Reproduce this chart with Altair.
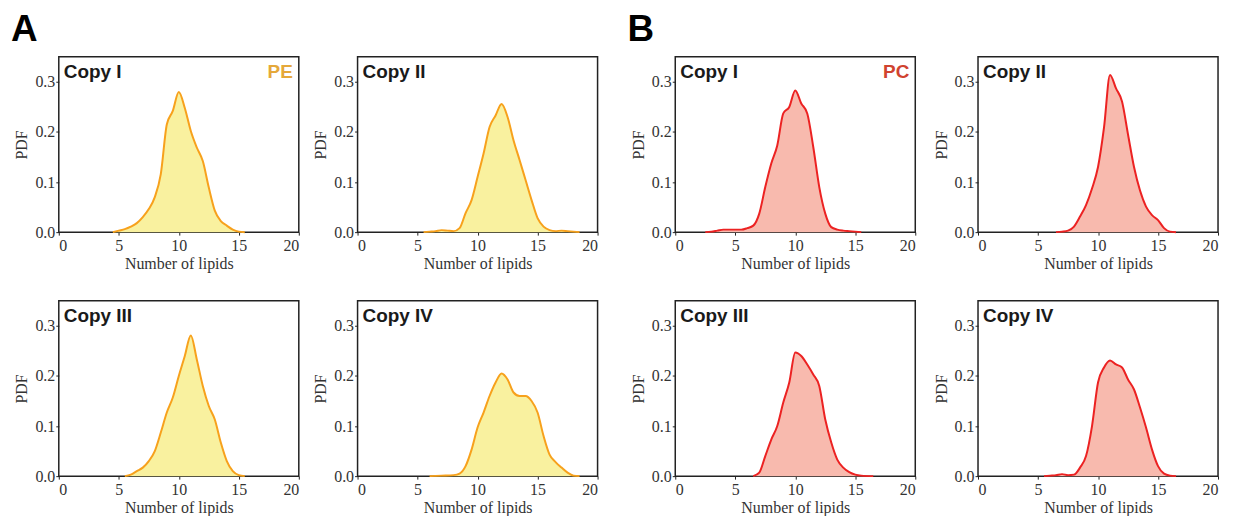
import altair as alt
import pandas as pd

# ---- data ----
A1_x = [4.5, 5, 5.5, 6, 6.5, 7, 7.5, 8, 8.5, 9, 9.5, 10, 10.5, 11, 11.5, 12, 12.5, 13, 13.5, 14, 14.5, 15, 15.5]
A1_y = [0, 0.003, 0.006, 0.011, 0.018, 0.030, 0.046, 0.070, 0.116, 0.215, 0.242, 0.280, 0.248, 0.202, 0.169, 0.142, 0.089, 0.043, 0.022, 0.013, 0.005, 0.001, 0]

A2_x = [5.5, 6, 6.5, 7, 7.5, 8, 8.5, 9, 9.5, 10, 10.5, 11, 11.5, 12, 12.5, 13, 13.5, 14, 14.5, 15, 15.5, 16, 16.5, 17, 17.5, 18, 18.5]
A2_y = [0, 0.001, 0.002, 0.004, 0.003, 0.002, 0.008, 0.038, 0.064, 0.110, 0.157, 0.210, 0.233, 0.256, 0.230, 0.183, 0.144, 0.104, 0.064, 0.028, 0.011, 0.004, 0.002, 0.003, 0.002, 0.001, 0]

A3_x = [5.5, 6, 6.5, 7, 7.5, 8, 8.5, 9, 9.5, 10, 10.5, 11, 11.5, 12, 12.5, 13, 13.5, 14, 14.5, 15, 15.5]
A3_y = [0, 0.003, 0.010, 0.017, 0.030, 0.050, 0.087, 0.127, 0.157, 0.200, 0.240, 0.281, 0.233, 0.180, 0.140, 0.113, 0.067, 0.030, 0.010, 0.002, 0]

A4_x = [6, 7, 8, 8.5, 9, 9.5, 10, 10.5, 11, 11.5, 12, 12.5, 13, 13.5, 14, 14.5, 15, 15.5, 16, 16.5, 17, 17.5, 18, 18.5]
A4_y = [0, 0.001, 0.002, 0.005, 0.020, 0.053, 0.097, 0.127, 0.160, 0.187, 0.205, 0.193, 0.167, 0.160, 0.160, 0.150, 0.127, 0.080, 0.043, 0.028, 0.017, 0.007, 0.001, 0]

B1_x = [2.5, 3, 3.5, 4, 5, 5.5, 6, 6.5, 7, 7.5, 8, 8.5, 9, 9.5, 10, 10.5, 11, 11.5, 12, 12.5, 13, 13.5, 14, 14.5, 15, 15.5]
B1_y = [0, 0.001, 0.003, 0.005, 0.005, 0.005, 0.008, 0.013, 0.037, 0.090, 0.137, 0.173, 0.237, 0.250, 0.283, 0.257, 0.237, 0.170, 0.090, 0.037, 0.010, 0.005, 0.003, 0.002, 0.001, 0]

B2_x = [6.5, 7, 7.5, 8, 8.5, 9, 9.5, 10, 10.5, 11, 11.5, 12, 12.5, 13, 13.5, 14, 14.5, 15, 15.5, 16, 16.5]
B2_y = [0, 0.001, 0.003, 0.011, 0.031, 0.054, 0.087, 0.130, 0.209, 0.314, 0.287, 0.261, 0.195, 0.130, 0.083, 0.051, 0.034, 0.024, 0.008, 0.001, 0]

B3_x = [6.5, 7, 7.5, 8, 8.5, 9, 9.5, 10, 10.5, 11, 11.5, 12, 12.5, 13, 13.5, 14, 14.5, 15, 15.5, 16.5]
B3_y = [0, 0.007, 0.040, 0.073, 0.100, 0.147, 0.187, 0.247, 0.240, 0.223, 0.203, 0.180, 0.113, 0.067, 0.033, 0.017, 0.008, 0.003, 0.001, 0]

B4_x = [5.5, 6, 6.5, 7, 7.5, 8, 8.5, 9, 9.5, 10, 10.5, 11, 11.5, 12, 12.5, 13, 13.5, 14, 14.5, 15, 15.5, 16, 16.5]
B4_y = [0, 0.001, 0.002, 0.004, 0.002, 0.003, 0.017, 0.040, 0.100, 0.187, 0.217, 0.231, 0.223, 0.217, 0.193, 0.173, 0.137, 0.097, 0.053, 0.020, 0.005, 0.001, 0]

copy_labels = ["Copy I", "Copy II", "Copy III", "Copy IV"]
x_ticks = [0, 5, 10, 15, 20]
y_ticks = [0.0, 0.1, 0.2, 0.3]

PE_LINE, PE_FILL, PE_TAG = "#F7A11C", "#F9F19F", "#E5A83A"
PC_LINE, PC_FILL, PC_TAG = "#EC2222", "#F8BAAE", "#D0432F"

W, H = 241, 176
SERIF = "Liberation Serif"
SANS = "Liberation Sans"


def panel(xs, ys, copy, line_c, fill_c, tag=None, tag_c=None, letter=None):
    df = pd.DataFrame({"x": xs, "y": ys})
    xenc = alt.X("x:Q", scale=alt.Scale(domain=[0, 20], nice=False),
                 axis=alt.Axis(values=x_ticks, format="d", title="Number of lipids"))
    yenc = alt.Y("y:Q", scale=alt.Scale(domain=[0, 0.35], nice=False),
                 axis=alt.Axis(values=y_ticks, format=".1f", title="PDF"))
    base = alt.Chart(df)
    area = base.mark_area(color=fill_c, opacity=1, interpolate="monotone").encode(x=xenc, y=yenc)
    line = base.mark_line(color=line_c, strokeWidth=2, interpolate="monotone").encode(x=xenc, y=yenc)
    layers = [area, line]
    lab = alt.Chart(pd.DataFrame({"t": [copy]})).mark_text(
        align="left", baseline="alphabetic", font=SANS, fontWeight="bold",
        fontSize=19, color="#1a1a1a").encode(x=alt.value(5), y=alt.value(21), text="t:N")
    layers.append(lab)
    if tag:
        tg = alt.Chart(pd.DataFrame({"t": [tag]})).mark_text(
            align="right", baseline="alphabetic", font=SANS, fontWeight="bold",
            fontSize=19, color=tag_c).encode(x=alt.value(W - 6), y=alt.value(21), text="t:N")
        layers.append(tg)
    if letter:
        lt = alt.Chart(pd.DataFrame({"t": [letter]})).mark_text(
            align="left", baseline="alphabetic", font=SANS, fontWeight="bold",
            fontSize=37, color="#000000").encode(x=alt.value(-48), y=alt.value(-16), text="t:N")
        layers.append(lt)
    return alt.layer(*layers).properties(width=W, height=H)


A = [(A1_x, A1_y), (A2_x, A2_y), (A3_x, A3_y), (A4_x, A4_y)]
B = [(B1_x, B1_y), (B2_x, B2_y), (B3_x, B3_y), (B4_x, B4_y)]

pa = [panel(x, y, copy_labels[i], PE_LINE, PE_FILL,
            tag="PE" if i == 0 else None, tag_c=PE_TAG, letter="A" if i == 0 else None)
      for i, (x, y) in enumerate(A)]
pb = [panel(x, y, copy_labels[i], PC_LINE, PC_FILL,
            tag="PC" if i == 0 else None, tag_c=PC_TAG, letter="B" if i == 0 else None)
      for i, (x, y) in enumerate(B)]

colA = alt.vconcat(alt.hconcat(pa[0], pa[1], spacing=59, bounds="flush"),
                   alt.hconcat(pa[2], pa[3], spacing=59, bounds="flush"),
                   spacing=27)
colB = alt.vconcat(alt.hconcat(pb[0], pb[1], spacing=63, bounds="flush"),
                   alt.hconcat(pb[2], pb[3], spacing=63, bounds="flush"),
                   spacing=27)

chart = alt.hconcat(colA, colB, spacing=27).properties(
    padding={"left": 2, "top": 1, "right": 5, "bottom": 2}
).configure_view(
    stroke="#222222", strokeWidth=1.5
).configure_axis(
    domain=False, ticks=True, tickSize=3, tickColor="#222222", tickWidth=1,
    grid=False, labelFont=SERIF, labelFontSize=16, labelColor="#333333", labelPadding=1,
    titleFont=SERIF, titleFontSize=16, titleFontWeight="normal", titleColor="#333333"
).configure_axisX(titlePadding=3, labelPadding=2).configure_axisY(titlePadding=5)

chart.save("out.html", embed_options={"renderer": "svg", "actions": False})
